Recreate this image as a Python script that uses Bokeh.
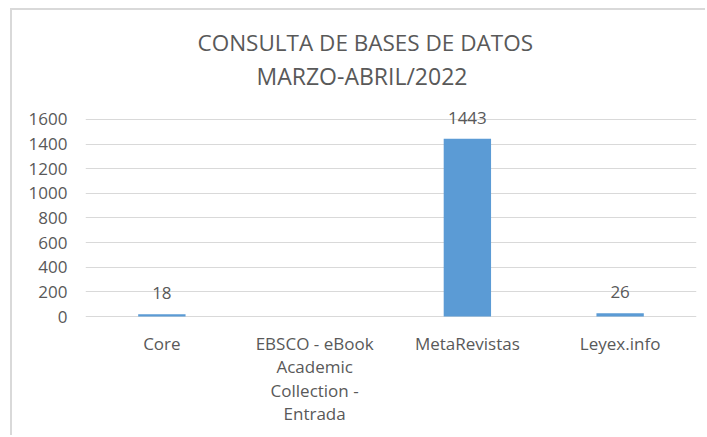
from bokeh.plotting import figure
from bokeh.models import ColumnDataSource, LabelSet, Title, Range1d, FixedTicker
from bokeh.core.properties import value
from bokeh.embed import file_html
from bokeh.resources import INLINE

categories = ["Core", "EBSCO - eBook Academic Collection - Entrada", "MetaRevistas", "Leyex.info"]
values = [18, None, 1443, 26]
category_lines = {
    "Core": ["Core"],
    "EBSCO - eBook Academic Collection - Entrada": ["EBSCO - eBook", "Academic", "Collection -", "Entrada"],
    "MetaRevistas": ["MetaRevistas"],
    "Leyex.info": ["Leyex.info"],
}
y_ticks = [0, 200, 400, 600, 800, 1000, 1200, 1400, 1600]
title_line1 = "CONSULTA DE BASES DE DATOS"
title_line2 = "MARZO-ABRIL/2022"

FONT = "Open Sans"
GREY = "#595959"

vals = [float("nan") if v is None else v for v in values]
labels = ["" if v is None else str(v) for v in values]
src = ColumnDataSource(dict(cat=categories, val=vals, lab=labels,
                            lab_y=[0 if v is None else v for v in values]))

# category label lines (wrapped like the original)
c_x, c_txt, c_off = [], [], []
for c in categories:
    for i, line in enumerate(category_lines[c]):
        c_x.append(c)
        c_txt.append(line)
        c_off.append(-(27 + i * 23.3))
csrc = ColumnDataSource(dict(x=c_x, y=[0] * len(c_x), t=c_txt, off=c_off))

p = figure(x_range=categories, y_range=Range1d(-950, 1827), width=695, height=427,
           margin=(8, 0, 0, 10),
           output_backend="svg", toolbar_location=None,
           min_border_left=73, min_border_right=11, min_border_top=81, min_border_bottom=4)
p.outline_line_color = None
p.background_fill_color = "white"
p.border_fill_color = "white"

p.vbar(x="cat", top="val", width=0.31, source=src, color="#5b9bd5", line_color=None)

ls = LabelSet(x="cat", y="lab_y", text="lab", source=src, text_align="center",
              text_baseline="alphabetic", y_offset=15, text_font=value(FONT),
              text_font_size="17px", text_color=GREY)
p.add_layout(ls)

cls = LabelSet(x="x", y="y", text="t", source=csrc, text_align="center",
               text_baseline="middle", y_offset="off", text_font=value(FONT),
               text_font_size="17px", text_color=GREY)
p.add_layout(cls)

p.yaxis.ticker = FixedTicker(ticks=y_ticks)
p.yaxis.axis_line_color = None
p.yaxis.major_tick_line_color = None
p.yaxis.minor_tick_line_color = None
p.yaxis.major_label_standoff = 12
p.yaxis.major_label_text_font = FONT
p.yaxis.major_label_text_font_size = "17px"
p.yaxis.major_label_text_color = GREY

p.xaxis.visible = False
p.xgrid.grid_line_color = None
p.ygrid.grid_line_color = "#d9d9d9"
p.ygrid.grid_line_width = 1

t2 = Title(text=title_line2, align="left", text_font=FONT, text_font_size="23px",
           text_color=GREY, text_font_style="normal", offset=171, standoff=0)
t1 = Title(text=title_line1, align="left", text_font=FONT, text_font_size="22.5px",
           text_color=GREY, text_font_style="normal", offset=112, standoff=0)
p.add_layout(t2, "above")
p.add_layout(t1, "above")

p.styles = {"border-left": "2px solid #d9d9d9", "border-top": "2px solid #d9d9d9"}

open("out.html", "w").write(file_html(p, INLINE))
